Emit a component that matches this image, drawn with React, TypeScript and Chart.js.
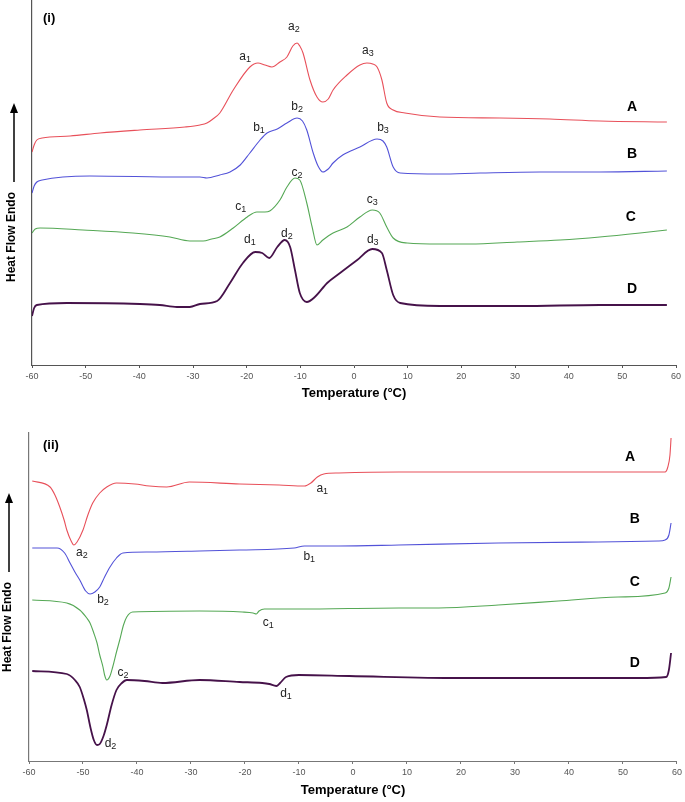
import React, { useEffect, useRef } from "react";
import { Chart, registerables } from "chart.js";

Chart.register(...registerables);

// ---------- Panel (i) ----------
const tempA1 = [-60, -59.6, -59.1, -58.1, -52.9, -47.3, -39.9, -31.5, -28.7, -27.4, -26.3, -25.0, -22.5, -19.4, -17.9, -16.6, -15.3, -13.8, -12.5, -11.4, -10.6, -10.1, -9.5, -8.2, -6.9, -5.8, -4.8, -3.9, -1.3, 1.1, 2.4, 3.5, 4.3, 5.2, 6.1, 7.3, 9.5, 16.0, 27.2, 36.5, 45.8, 58.3];
const flowA1 = [21.3, 22.0, 22.5, 22.7, 22.9, 23.2, 23.5, 23.8, 24.0, 24.2, 24.6, 25.2, 27.5, 29.8, 30.2, 30.0, 29.8, 30.3, 30.8, 31.9, 32.2, 31.9, 31.2, 28.5, 26.8, 26.3, 26.6, 27.5, 29.0, 30.0, 30.2, 30.1, 29.8, 28.5, 26.2, 25.5, 25.2, 24.8, 24.7, 24.6, 24.4, 24.3];

const tempB1 = [-60, -59.6, -59.1, -58.1, -49.2, -32.4, -28.7, -27.4, -25.0, -23.1, -21.2, -19.4, -17.5, -16.2, -14.3, -12.5, -10.6, -9.6, -8.8, -7.6, -6.7, -5.8, -4.8, -3.9, -2.1, 1.1, 4.3, 5.4, 6.1, 7.3, 8.6, 16.0, 23.5, 34.7, 45.8, 58.3];
const flowB1 = [17.2, 17.9, 18.3, 18.5, 18.9, 18.8, 18.8, 18.7, 19.0, 19.3, 20.0, 21.2, 22.5, 23.2, 23.6, 24.2, 24.7, 24.4, 23.5, 21.2, 19.9, 19.3, 19.6, 20.2, 21.0, 21.8, 22.6, 22.4, 21.8, 19.8, 19.2, 19.1, 19.2, 19.3, 19.3, 19.4];

const tempC1 = [-60, -59.4, -58.5, -50.5, -41.2, -34.3, -30.6, -28.1, -26.5, -25.0, -22.5, -19.9, -18.1, -16.6, -15.7, -13.8, -12.5, -11.0, -10.1, -8.8, -7.8, -6.9, -5.8, -3.9, -1.3, 1.1, 3.4, 4.8, 6.1, 7.3, 9.9, 16.0, 21.6, 30.4, 38.4, 45.8, 53.3, 58.3];
const flowC1 = [13.2, 13.6, 13.7, 13.5, 13.2, 12.8, 12.4, 12.4, 12.6, 12.8, 13.7, 14.8, 15.3, 15.3, 15.4, 16.5, 17.8, 18.7, 18.5, 16.2, 13.8, 12.0, 12.5, 13.2, 13.8, 14.8, 15.5, 15.2, 13.8, 12.7, 12.2, 12.1, 12.1, 12.3, 12.5, 12.8, 13.2, 13.5];

const tempD1 = [-60, -59.6, -59.1, -53.5, -39.9, -36.2, -33.0, -30.6, -28.7, -25.5, -23.1, -20.7, -18.4, -17.1, -15.8, -14.3, -12.9, -11.9, -11.0, -10.1, -8.8, -7.3, -5.0, -2.6, 0.6, 3.4, 5.2, 6.1, 7.3, 8.6, 16.0, 30.9, 45.8, 58.3];
const flowD1 = [4.9, 5.7, 6.0, 6.2, 6.1, 6.0, 5.8, 5.8, 6.1, 6.4, 8.2, 10.2, 11.3, 11.2, 10.7, 11.8, 12.5, 11.8, 9.5, 7.2, 6.3, 6.8, 8.2, 9.2, 10.5, 11.6, 11.2, 9.5, 7.0, 6.2, 5.9, 5.9, 6.0, 6.0];

const peakNames1 = ["a1", "a2", "a3", "b1", "b2", "b3", "c1", "c2", "c3", "d1", "d2", "d3"];
const peakTemps1 = [-20.3, -11.2, 2.6, -17.7, -10.6, 5.4, -21.1, -10.6, 3.4, -19.4, -12.5, 3.5];
const peakFlows1 = [30.8, 33.8, 31.4, 23.7, 25.8, 23.7, 15.8, 19.2, 16.5, 12.5, 13.1, 12.5];
const curveNames1 = ["A", "B", "C", "D"];
const curveTemps1 = [51.8, 51.8, 51.6, 51.8];
const curveFlows1 = [25.8, 21.1, 14.8, 7.6];

// ---------- Panel (ii) ----------
const tempA2 = [-59.4, -56.1, -55.2, -54.3, -53.5, -53.0, -52.2, -51.7, -51.1, -50.0, -49.1, -48.2, -46.9, -45.6, -43.8, -40.4, -37.7, -34.5, -30.3, -21.0, -13.7, -9.0, -7.8, -6.6, -5.4, -2.6, 8.5, 26.9, 45.4, 57.8, 58.3, 58.7, 58.9];
const flowA2 = [28.0, 27.4, 26.6, 25.4, 24.1, 23.1, 22.0, 21.6, 21.9, 23.1, 24.6, 25.8, 26.8, 27.4, 27.8, 27.7, 27.5, 27.4, 27.9, 27.7, 27.6, 27.5, 27.8, 28.4, 28.7, 28.8, 28.9, 28.9, 28.9, 28.9, 29.4, 30.6, 32.3];

const tempB2 = [-59.4, -54.8, -53.4, -52.4, -51.5, -50.6, -49.5, -48.7, -47.8, -46.9, -46.0, -45.0, -43.8, -42.6, -37.7, -28.4, -21.0, -10.9, -9.0, -2.6, 8.5, 26.9, 45.4, 56.5, 57.8, 58.5, 58.9];
const flowB2 = [21.3, 21.3, 20.8, 19.8, 18.9, 18.1, 17.0, 16.7, 16.9, 17.4, 18.4, 19.4, 20.3, 20.8, 20.9, 21.0, 21.1, 21.3, 21.5, 21.5, 21.6, 21.8, 21.9, 22.0, 22.1, 22.6, 23.8];

const tempC2 = [-59.4, -53.0, -50.6, -49.3, -48.7, -48.0, -47.4, -46.9, -46.3, -46.0, -45.6, -45.0, -44.5, -43.8, -43.2, -42.5, -41.9, -40.8, -28.4, -20.5, -18.5, -17.9, -17.4, -16.4, -10.0, 8.5, 15.9, 26.9, 38.0, 49.1, 57.8, 58.5, 58.9];
const flowC2 = [16.1, 15.8, 15.1, 14.3, 13.8, 12.8, 11.8, 10.6, 9.4, 8.6, 8.1, 8.5, 9.4, 10.9, 12.1, 13.6, 14.4, 14.9, 15.0, 14.9, 14.8, 14.7, 15.0, 15.2, 15.2, 15.3, 15.3, 15.6, 16.0, 16.4, 16.8, 17.3, 18.4];

const tempD2 = [-59.4, -53.0, -51.5, -50.6, -49.8, -49.3, -48.6, -48.0, -47.4, -46.9, -46.2, -45.6, -44.7, -43.8, -42.8, -41.9, -38.6, -35.3, -28.4, -21.0, -16.8, -15.5, -14.2, -13.5, -12.4, -10.0, -0.7, 19.6, 38.0, 52.8, 58.0, 58.5, 58.9];
const flowD2 = [9.0, 8.7, 8.1, 7.4, 6.1, 5.1, 3.3, 2.1, 1.6, 1.7, 2.5, 3.6, 5.6, 7.1, 7.8, 8.1, 8.0, 7.8, 8.1, 7.9, 7.8, 7.7, 7.5, 7.8, 8.4, 8.6, 8.5, 8.3, 8.3, 8.3, 8.4, 9.1, 10.8];

const peakNames2 = ["a1", "a2", "b1", "b2", "c1", "c2", "d1", "d2"];
const peakTemps2 = [-5.7, -50.2, -8.1, -46.3, -15.7, -42.6, -12.4, -44.9];
const peakFlows2 = [27.2, 20.8, 20.4, 16.1, 13.8, 8.8, 6.7, 1.7];
const curveNames2 = ["A", "B", "C", "D"];
const curveTemps2 = [51.3, 52.2, 52.2, 52.2];
const curveFlows2 = [30.4, 24.2, 17.9, 9.8];

const xTickValues = [-60, -50, -40, -30, -20, -10, 0, 10, 20, 30, 40, 50, 60];

const COLORS = ["#e8505a", "#5252d8", "#55a855", "#46124a"];
const WIDTHS = [1.1, 1.1, 1.1, 1.8];
const FONT = "'Liberation Sans', Arial, sans-serif";

type PanelProps = {
  temps: number[][];
  flows: number[][];
  peakNames: string[];
  peakTemps: number[];
  peakFlows: number[];
  curveNames: string[];
  curveTemps: number[];
  curveFlows: number[];
  panelLabel: string;
  width: number;
  height: number;
  yMax: number;
  padLeft: number;
  padRight: number;
  padTop: number;
  xAxisHeight: number;
  titleBottomPad: number;
  axisColor: string;
  labelPos: { textX: number; textY: number; arrowX: number; arrowTop: number; arrowBottom: number; tagX: number; tagY: number };
};

function Panel(p: PanelProps) {
  const ref = useRef<HTMLCanvasElement | null>(null);
  useEffect(() => {
    if (!ref.current) return;
    const datasets = p.temps.map((ts, i) => ({
      label: p.curveNames[i],
      data: ts.map((t, j) => ({ x: t, y: p.flows[i][j] })),
      borderColor: COLORS[i],
      borderWidth: WIDTHS[i],
      pointRadius: 0,
      fill: false,
      cubicInterpolationMode: "monotone" as const,
    }));

    const decor = {
      id: "decor",
      afterDatasetsDraw(chart: any) {
        const { ctx, scales } = chart;
        const xs = scales.x;
        const ys = scales.y;
        ctx.save();
        // peak labels with subscripts
        p.peakNames.forEach((nm, i) => {
          const cx = xs.getPixelForValue(p.peakTemps[i]);
          const cy = ys.getPixelForValue(p.peakFlows[i]);
          const letter = nm[0];
          const sub = nm.slice(1);
          ctx.font = `12px ${FONT}`;
          const w1 = ctx.measureText(letter).width;
          ctx.font = `9px ${FONT}`;
          const w2 = ctx.measureText(sub).width;
          const x0 = cx - (w1 + w2) / 2;
          ctx.fillStyle = "#222";
          ctx.textBaseline = "middle";
          ctx.textAlign = "left";
          ctx.font = `12px ${FONT}`;
          ctx.fillText(letter, x0, cy);
          ctx.font = `9px ${FONT}`;
          ctx.fillText(sub, x0 + w1, cy + 3);
        });
        // curve letters
        ctx.font = `bold 14px ${FONT}`;
        ctx.fillStyle = "#000";
        ctx.textAlign = "center";
        ctx.textBaseline = "middle";
        p.curveNames.forEach((nm, i) => {
          ctx.fillText(nm, xs.getPixelForValue(p.curveTemps[i]), ys.getPixelForValue(p.curveFlows[i]));
        });
        // panel tag
        ctx.font = `bold 13px ${FONT}`;
        ctx.textAlign = "left";
        ctx.fillText(p.panelLabel, p.labelPos.tagX, p.labelPos.tagY);
        // y label
        const lp = p.labelPos;
        ctx.save();
        ctx.translate(lp.textX, lp.textY);
        ctx.rotate(-Math.PI / 2);
        ctx.font = `bold 12px ${FONT}`;
        ctx.textAlign = "center";
        ctx.textBaseline = "middle";
        ctx.fillText("Heat Flow Endo", 0, 0);
        ctx.restore();
        // arrow
        ctx.strokeStyle = "#000";
        ctx.lineWidth = 1.5;
        ctx.beginPath();
        ctx.moveTo(lp.arrowX, lp.arrowBottom);
        ctx.lineTo(lp.arrowX, lp.arrowTop + 8);
        ctx.stroke();
        ctx.beginPath();
        ctx.moveTo(lp.arrowX, lp.arrowTop);
        ctx.lineTo(lp.arrowX - 4, lp.arrowTop + 10);
        ctx.lineTo(lp.arrowX + 4, lp.arrowTop + 10);
        ctx.closePath();
        ctx.fillStyle = "#000";
        ctx.fill();
        ctx.restore();
      },
    };

    const chart = new Chart(ref.current, {
      type: "line",
      data: { datasets },
      options: {
        animation: false,
        responsive: false,
        devicePixelRatio: 1,
        layout: { padding: { left: p.padLeft, right: p.padRight, top: p.padTop, bottom: 0 } },
        plugins: { legend: { display: false }, tooltip: { enabled: false } },
        scales: {
          x: {
            type: "linear",
            min: -60,
            max: 60,
            afterBuildTicks: (s: any) => {
              s.ticks = xTickValues.map((v) => ({ value: v }));
            },
            afterFit: (s: any) => {
              s.height = p.xAxisHeight;
            },
            ticks: { font: { family: FONT, size: 9 }, color: "#555", padding: 3, maxRotation: 0 },
            grid: { drawOnChartArea: false, drawTicks: true, tickLength: 3, color: p.axisColor },
            border: { display: true, color: p.axisColor, width: 1 },
            title: {
              display: true,
              text: "Temperature (°C)",
              font: { family: FONT, size: 13, weight: "bold" },
              color: "#000",
              padding: { top: 0, bottom: p.titleBottomPad },
            },
          },
          y: {
            type: "linear",
            min: 0,
            max: p.yMax,
            afterFit: (s: any) => {
              s.width = 0;
            },
            ticks: { display: false },
            grid: { display: false, drawTicks: false },
            border: { display: true, color: p.axisColor, width: 1.2 },
          },
        },
      },
      plugins: [decor],
    });
    return () => chart.destroy();
  }, []);
  return (
    <canvas
      ref={ref}
      width={p.width}
      height={p.height}
      style={{ display: "block", width: p.width, height: p.height }}
    />
  );
}

export default function App() {
  return (
    <div style={{ position: "absolute", left: 0, top: 0, width: 685, height: 802, background: "#fff" }}>
      <Panel
        temps={[tempA1, tempB1, tempC1, tempD1]}
        flows={[flowA1, flowB1, flowC1, flowD1]}
        peakNames={peakNames1}
        peakTemps={peakTemps1}
        peakFlows={peakFlows1}
        curveNames={curveNames1}
        curveTemps={curveTemps1}
        curveFlows={curveFlows1}
        panelLabel="(i)"
        width={685}
        height={410}
        yMax={36.5}
        padLeft={32}
        padRight={9}
        padTop={0}
        xAxisHeight={45}
        titleBottomPad={9}
        axisColor="#555"
        labelPos={{ textX: 12, textY: 237, arrowX: 14, arrowTop: 103, arrowBottom: 182, tagX: 43, tagY: 18 }}
      />
      <Panel
        temps={[tempA2, tempB2, tempC2, tempD2]}
        flows={[flowA2, flowB2, flowC2, flowD2]}
        peakNames={peakNames2}
        peakTemps={peakTemps2}
        peakFlows={peakFlows2}
        curveNames={curveNames2}
        curveTemps={curveTemps2}
        curveFlows={curveFlows2}
        panelLabel="(ii)"
        width={685}
        height={392}
        yMax={32.8}
        padLeft={29}
        padRight={6}
        padTop={23}
        xAxisHeight={41}
        titleBottomPad={4}
        axisColor="#777"
        labelPos={{ textX: 8, textY: 217, arrowX: 9, arrowTop: 83, arrowBottom: 162, tagX: 43, tagY: 35 }}
      />
    </div>
  );
}
